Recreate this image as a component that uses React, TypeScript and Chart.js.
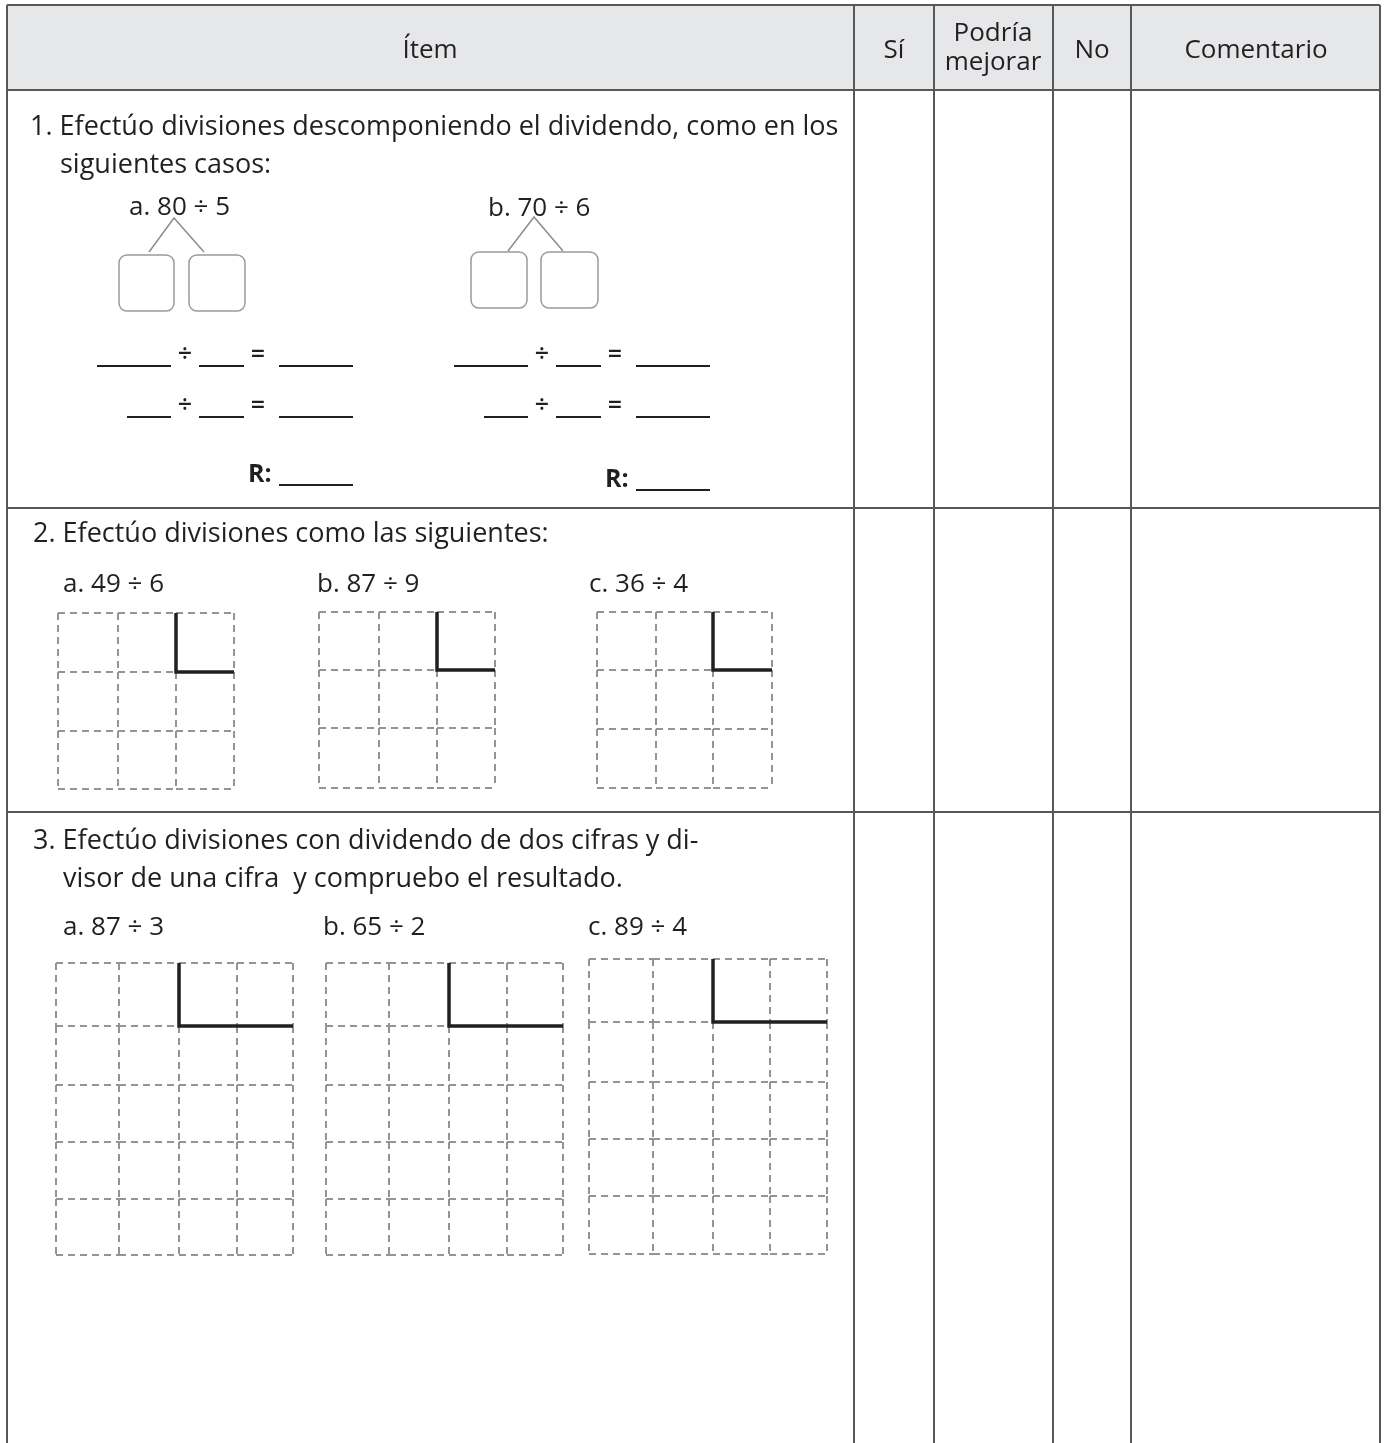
import React, { useEffect, useRef } from "react";
import { Chart, registerables } from "chart.js";

Chart.register(...registerables);

const W = 1385;
const H = 1443;

// ---------- content ----------
const headerLabels = ["Ítem", "Sí", "Podría", "mejorar", "No", "Comentario"];
const itemTexts = [
  "1. Efectúo divisiones descomponiendo el dividendo, como en los",
  "siguientes casos:",
  "2. Efectúo divisiones como las siguientes:",
  "3. Efectúo divisiones con dividendo de dos cifras y di-",
  "visor de una cifra  y compruebo el resultado.",
];
const problemLabels = ["a. 80 ÷ 5", "b. 70 ÷ 6", "a. 49 ÷ 6", "b. 87 ÷ 9", "c. 36 ÷ 4", "a. 87 ÷ 3", "b. 65 ÷ 2", "c. 89 ÷ 4"];
const operatorSymbols = ["÷", "=", "÷", "=", "÷", "=", "÷", "="];
const answerLabels = ["R:", "R:"];

// ---------- layout (table) ----------
const columnEdges = [7, 854, 934, 1053, 1131, 1380];
const rowEdges = [5, 90, 508, 812];
const tableBottom = H;

// grids of problem 2 (3 x 3)
const grid2aX = [58, 118, 176, 234];
const grid2aY = [613, 672, 731, 789];
const grid2bX = [319, 379, 437, 495];
const grid2bY = [612, 670, 728, 788];
const grid2cX = [597, 656, 713, 772];
const grid2cY = [612, 670, 729, 788];
// grids of problem 3 (4 x 5)
const grid3aX = [56, 119, 179, 237, 293];
const grid3aY = [963, 1026, 1085, 1142, 1199, 1255];
const grid3bX = [326, 389, 449, 507, 563];
const grid3bY = [963, 1026, 1085, 1142, 1199, 1255];
const grid3cX = [589, 653, 713, 770, 827];
const grid3cY = [959, 1022, 1082, 1139, 1196, 1254];

// problem 1 decomposition trees and boxes
const treeA = [[149, 252], [174, 218], [204, 252]];
const treeB = [[508, 251], [534, 217], [563, 251]];
const boxRects = [
  [119, 255, 174, 311],
  [189, 255, 245, 311],
  [471, 252, 527, 308],
  [541, 252, 598, 308],
];
// blanks [x1, x2, y]
const blanksA = [
  [97, 171, 366], [199, 244, 366], [279, 353, 366],
  [127, 171, 417], [199, 244, 417], [279, 353, 417],
  [279, 353, 485],
];
const blanksB = [
  [454, 528, 366], [556, 601, 366], [636, 710, 366],
  [484, 528, 417], [556, 601, 417], [636, 710, 417],
  [636, 710, 490],
];

// text positions
const headerPos = [[430, 58, "center"], [894, 58, "center"], [993, 41, "center"], [993, 70, "center"], [1092, 58, "center"], [1256, 58, "center"]];
const itemPos = [[30, 135], [60, 173], [33, 542], [33, 849], [63, 887]];
const labelPos = [[129, 215], [488, 216], [63, 592], [317, 592], [589, 592], [63, 935], [323, 935], [588, 935]];
const operatorPos = [[185, 362], [258, 362], [185, 413], [258, 413], [542, 362], [615, 362], [542, 413], [615, 413]];
const answerPos = [[248, 482], [605, 487]];

const INK = "#231f20";
const RULE = "#585858";
const DASH = "#949494";
const FONT = "'Open Sans', 'Noto Sans', sans-serif";

type Pt = [number, number];

function lineDs(points: Pt[], color: string, width: number, dash: number[] = []) {
  return {
    type: "scatter" as const,
    showLine: true,
    data: points.map(([x, y]) => ({ x, y })),
    borderColor: color,
    backgroundColor: color,
    borderWidth: width,
    borderDash: dash,
    borderCapStyle: "butt" as const,
    borderJoinStyle: "miter" as const,
    pointRadius: 0,
    pointHoverRadius: 0,
    fill: false,
    tension: 0,
  };
}

function gridDatasets(xs: number[], ys: number[]) {
  const dashed: any[] = [];
  const dash = [7, 5];
  for (const y of ys) {
    for (let i = 0; i < xs.length - 1; i++) dashed.push(lineDs([[xs[i], y], [xs[i + 1], y]], DASH, 2, dash));
  }
  for (const x of xs) {
    for (let j = 0; j < ys.length - 1; j++) dashed.push(lineDs([[x, ys[j]], [x, ys[j + 1]]], DASH, 2, dash));
  }
  // the solid bracket of the division layout
  const bracket = lineDs(
    [[xs[2], ys[0]], [xs[2], ys[1]], [xs[xs.length - 1], ys[1]]],
    INK,
    3.5
  );
  return { dashed, bracket };
}

function buildDatasets() {
  const bottom: any[] = [];
  const top: any[] = [];
  // table rules
  for (const y of rowEdges) bottom.push(lineDs([[columnEdges[0], y], [columnEdges[columnEdges.length - 1], y]], RULE, 2));
  for (const x of columnEdges) bottom.push(lineDs([[x, rowEdges[0]], [x, tableBottom]], RULE, 2));
  // trees
  bottom.push(lineDs(treeA as Pt[], "#8c8c8c", 1.5));
  bottom.push(lineDs(treeB as Pt[], "#8c8c8c", 1.5));
  // blanks
  for (const [x1, x2, y] of [...blanksA, ...blanksB]) bottom.push(lineDs([[x1, y], [x2, y]], INK, 2.2));
  // grids
  for (const [xs, ys] of [
    [grid2aX, grid2aY], [grid2bX, grid2bY], [grid2cX, grid2cY],
    [grid3aX, grid3aY], [grid3bX, grid3bY], [grid3cX, grid3cY],
  ]) {
    const g = gridDatasets(xs, ys);
    bottom.push(...g.dashed);
    top.push(g.bracket);
  }
  // Chart.js paints dataset 0 last (on top): put the drawn-last items first
  return [...top, ...bottom.reverse()];
}

const sheetPlugin = {
  id: "sheet",
  beforeDatasetsDraw(chart: any) {
    const { ctx, scales } = chart;
    const sx = (v: number) => scales.x.getPixelForValue(v);
    const sy = (v: number) => scales.y.getPixelForValue(v);
    ctx.save();
    // header fill
    ctx.fillStyle = "#e6e7e8";
    const x0 = sx(columnEdges[0]);
    const x1 = sx(columnEdges[columnEdges.length - 1]);
    const y0 = sy(rowEdges[0]);
    const y1 = sy(rowEdges[1]);
    ctx.fillRect(x0, y0, x1 - x0, y1 - y0);
    // rounded boxes
    ctx.strokeStyle = "#9b9b9b";
    ctx.lineWidth = 1.5;
    for (const [a, b, c, d] of boxRects) {
      const px = sx(a), py = sy(b), pw = sx(c) - px, ph = sy(d) - py;
      ctx.beginPath();
      if ((ctx as any).roundRect) (ctx as any).roundRect(px, py, pw, ph, 8);
      else ctx.rect(px, py, pw, ph);
      ctx.stroke();
    }
    ctx.restore();
  },
  afterDatasetsDraw(chart: any) {
    const { ctx, scales } = chart;
    const sx = (v: number) => scales.x.getPixelForValue(v);
    const sy = (v: number) => scales.y.getPixelForValue(v);
    ctx.save();
    ctx.fillStyle = INK;
    ctx.textBaseline = "alphabetic";
    ctx.font = `26px ${FONT}`;
    headerLabels.forEach((t, i) => {
      const [x, y, al] = headerPos[i] as any;
      ctx.textAlign = al;
      ctx.fillText(t, sx(x), sy(y));
    });
    ctx.textAlign = "left";
    ctx.font = `27px ${FONT}`;
    itemTexts.forEach((t, i) => ctx.fillText(t, sx(itemPos[i][0]), sy(itemPos[i][1])));
    ctx.font = `26px ${FONT}`;
    problemLabels.forEach((t, i) => ctx.fillText(t, sx(labelPos[i][0]), sy(labelPos[i][1])));
    ctx.textAlign = "center";
    ctx.font = `600 25px ${FONT}`;
    operatorSymbols.forEach((t, i) => ctx.fillText(t, sx(operatorPos[i][0]), sy(operatorPos[i][1])));
    ctx.textAlign = "left";
    ctx.font = `bold 25px ${FONT}`;
    answerLabels.forEach((t, i) => ctx.fillText(t, sx(answerPos[i][0]), sy(answerPos[i][1])));
    ctx.restore();
  },
};

export default function App() {
  const canvasRef = useRef<HTMLCanvasElement | null>(null);
  useEffect(() => {
    if (!canvasRef.current) return;
    const chart = new Chart(canvasRef.current, {
      type: "scatter",
      data: { datasets: buildDatasets() },
      options: {
        animation: false,
        responsive: false,
        devicePixelRatio: 1,
        events: [],
        layout: { padding: 0 },
        plugins: { legend: { display: false }, tooltip: { enabled: false } },
        scales: {
          x: { type: "linear", min: 0, max: W, display: false },
          y: { type: "linear", min: 0, max: H, reverse: true, display: false },
        },
      },
      plugins: [sheetPlugin],
    } as any);
    return () => chart.destroy();
  }, []);
  return (
    <div style={{ position: "absolute", left: 0, top: 0, width: W, height: H, background: "#fff" }}>
      <canvas ref={canvasRef} width={W} height={H} style={{ display: "block" }} />
    </div>
  );
}
